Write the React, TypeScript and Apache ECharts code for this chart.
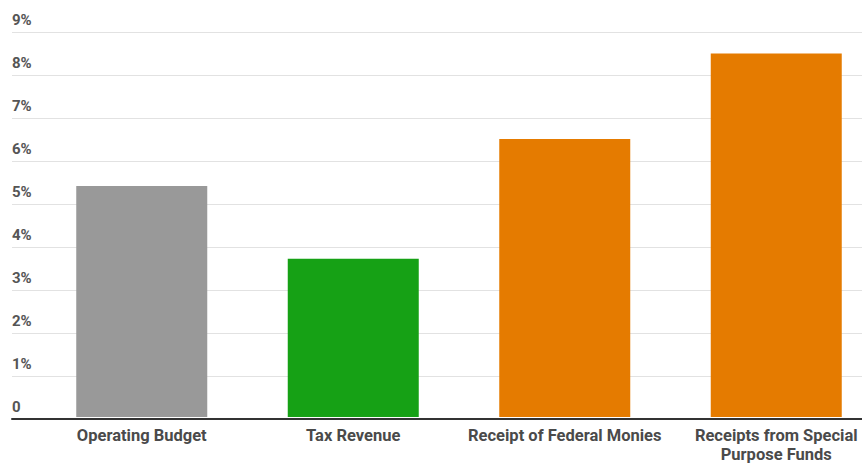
import React, { useEffect, useRef } from "react";
import * as echarts from "echarts";

const categories = [
  "Operating Budget",
  "Tax Revenue",
  "Receipt of Federal Monies",
  "Receipts from Special\nPurpose Funds",
];
const values = [5.4, 3.7, 6.5, 8.5];
const barColors = ["#999999", "#16a115", "#e57b00", "#e57b00"];
const yTicks = [0, 1, 2, 3, 4, 5, 6, 7, 8, 9];

export default function App() {
  const ref = useRef<HTMLDivElement>(null);
  useEffect(() => {
    if (!ref.current) return;
    const chart = echarts.init(ref.current, null, { renderer: "svg" });
    const font = "Roboto, 'Noto Sans', sans-serif";
    chart.setOption({
      animation: false,
      grid: [
        { left: 12, right: 0, top: 32, bottom: 45 },
        { left: 36, right: 0, top: 32, bottom: 45 },
      ],
      xAxis: [
        {
          gridIndex: 0,
          type: "value",
          min: 0,
          max: 1,
          z: 5,
          axisLine: { show: true, onZero: false, lineStyle: { color: "#333333", width: 2 } },
          axisTick: { show: false },
          axisLabel: { show: false },
          splitLine: { show: false },
        },
        {
          gridIndex: 1,
          type: "category",
          data: categories,
          axisLine: { show: false },
          axisTick: { show: false },
          axisLabel: {
            interval: 0,
            margin: 9,
            color: "#4a4a4a",
            fontFamily: font,
            fontWeight: "bold",
            fontSize: 16.5,
            lineHeight: 19,
          },
        },
      ],
      yAxis: [
        {
          gridIndex: 0,
          type: "value",
          min: yTicks[0],
          max: yTicks[yTicks.length - 1],
          interval: 1,
          axisLine: { show: false },
          axisTick: { show: false },
          splitLine: { lineStyle: { color: "#e2e2e2", width: 1 } },
          axisLabel: {
            inside: true,
            margin: 0,
            align: "left",
            verticalAlign: "bottom",
            padding: [0, 0, 5, 0],
            color: "#555555",
            fontFamily: font,
            fontWeight: "bold",
            fontSize: 15,
            formatter: (v: number) => (v === 0 ? "0" : v + "%"),
          },
        },
        {
          gridIndex: 1,
          type: "value",
          min: 0,
          max: 9,
          show: false,
        },
      ],
      series: [
        {
          type: "bar",
          xAxisIndex: 1,
          yAxisIndex: 1,
          barWidth: 131,
          data: values.map((v, i) => ({ value: v, itemStyle: { color: barColors[i] } })),
        },
      ],
    });
    return () => chart.dispose();
  }, []);
  return (
    <div
      style={{
        position: "absolute",
        left: 0,
        top: 0,
        width: 862,
        height: 464,
        overflow: "hidden",
      }}
    >
      <div ref={ref} style={{ width: 882, height: 464 }} />
    </div>
  );
}
